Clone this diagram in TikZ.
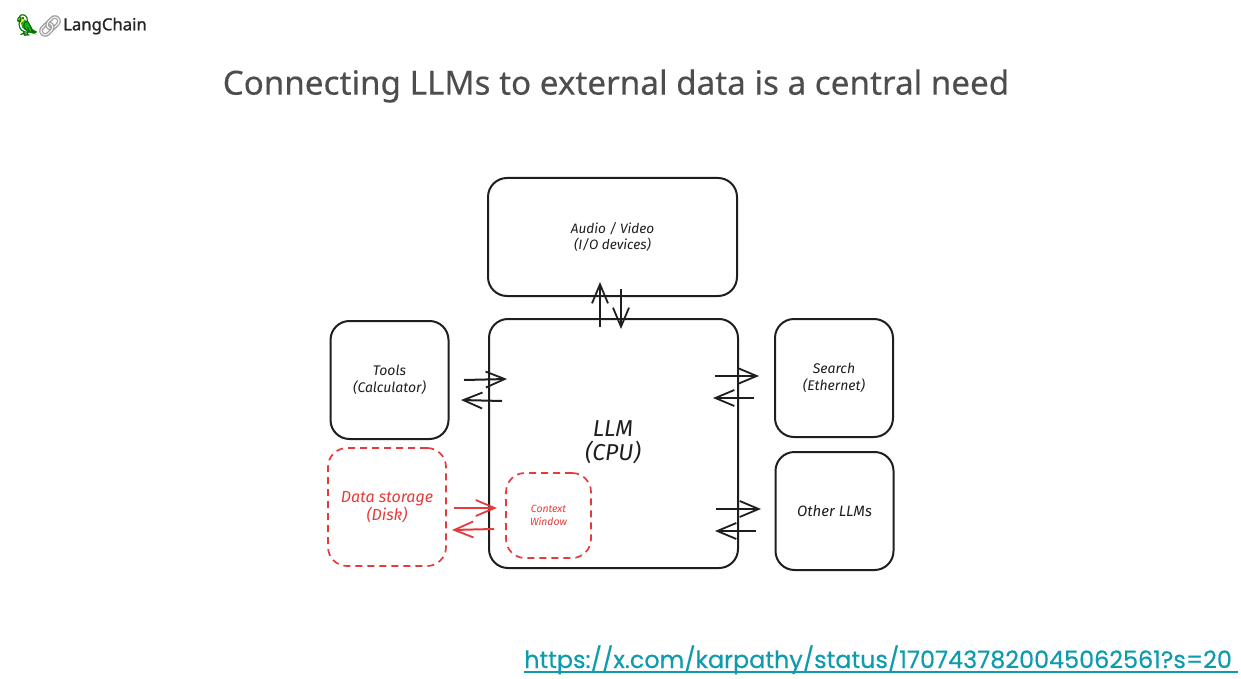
\documentclass[tikz,border=0pt]{standalone}
\usepackage{fontspec}
\setmainfont{Lato}
\newfontfamily\titlefont{Noto Sans}[FakeBold=0.3]
\newfontfamily\logofont{Noto Sans}[FakeBold=1.2]
\newfontfamily\linkfont{Poppins}[FakeBold=0.35]
\newfontfamily\handfont{Fira Sans}
\newfontfamily\emojifont{Noto Emoji}[FakeBold=1]
\usetikzlibrary{arrows.meta}
\definecolor{inkc}{HTML}{1E1E1E}
\definecolor{redc}{HTML}{E63B3B}
\definecolor{titlec}{HTML}{4D4D4D}
\definecolor{linkc}{HTML}{0E9BAE}
\tikzset{
  box/.style={draw=inkc,line width=2pt,rounded corners=19pt,inner sep=0pt,
    minimum width=#1,align=center,font=\handfont\itshape\fontsize{14}{16.5}\selectfont,text=inkc},
  redbox/.style={draw=redc,line width=1.7pt,dashed,dash pattern=on 7pt off 5pt,
    rounded corners=19pt,inner sep=0pt,align=center,text=redc,font=\handfont\itshape\fontsize{16}{17}\selectfont},
  lbl/.style={inner sep=0pt,align=center},
  arr/.style={draw=inkc,line width=2pt,-{Straight Barb[length=19pt,width=16pt,line width=1.8pt]}},
  rarr/.style={arr,draw=redc},
}
\begin{document}
\begin{tikzpicture}[x=1pt,y=-1pt]
\useasboundingbox (0,0) rectangle (1241,679);
% logo and title
\fill[green!60!black!85] (19,19) .. controls (25,17) and (32,25) .. (33,31) .. controls (27,33) and (21,29) .. (21,23) -- cycle;
\fill[yellow!80!orange] (21,19.5) circle (3.2pt);
\fill[orange!85!red] (29,30) -- (37,35) -- (31,32.5) -- cycle;
\node[lbl,text=green!45!black,font=\emojifont\fontsize{21}{21}\selectfont] (parrot) at (27,25) {🦜};
\node[lbl,text=gray!75,font=\emojifont\fontsize{21}{21}\selectfont] (chain) at (50,26) {🔗};
\node[lbl,anchor=west,text=black!85,font=\logofont\fontsize{16.7}{18}\selectfont] (logo) at (63,26) {LangChain};
\node[lbl,text=titlec,font=\titlefont\fontsize{33.2}{36}\selectfont] (title) at (616,86) {Connecting LLMs to external data is a central need};
% boxes
\node[box=249pt,minimum height=118pt,font=\handfont\itshape\fontsize{13.6}{16}\selectfont] (av) at (612.5,237) {Audio / Video\\(I/O devices)};
\node[box=249pt,minimum height=249pt] (llm) at (613.5,443.5) {};
\node[lbl,text=inkc,font=\handfont\itshape\fontsize{23}{24}\selectfont] (llmt) at (613,442) {LLM\\(CPU)};
\node[box=118pt,minimum height=118pt] (tools) at (389.5,380) {Tools\\(Calculator)};
\node[box=118pt,minimum height=118pt] (search) at (834,378) {Search\\(Ethernet)};
\node[box=118pt,minimum height=118pt,font=\handfont\itshape\fontsize{15}{16}\selectfont] (other) at (834.5,511) {Other LLMs};
\node[redbox,minimum width=118pt,minimum height=118pt] (disk) at (387,507) {Data storage\\(Disk)};
\node[redbox,minimum width=85pt,minimum height=85pt,font=\handfont\itshape\fontsize{10.4}{13}\selectfont] (ctx) at (548.5,515.5) {Context\\Window};
% free arrow ends
\coordinate (a1s) at (600,327); \coordinate (a1e) at (600,282);
\coordinate (a2s) at (621,289); \coordinate (a2e) at (621,329);
\coordinate (t1s) at (464,380); \coordinate (t1e) at (507,379);
\coordinate (t2s) at (502,401); \coordinate (t2e) at (461,400);
\coordinate (s1s) at (715,376); \coordinate (s1e) at (759,376);
\coordinate (s2s) at (754,398); \coordinate (s2e) at (713,398);
\coordinate (o1s) at (716,509); \coordinate (o1e) at (761,509);
\coordinate (o2s) at (756,531); \coordinate (o2e) at (715,531);
\coordinate (d1s) at (454,508); \coordinate (d1e) at (497,508);
\coordinate (d2s) at (494,529); \coordinate (d2e) at (452,530);
\draw[arr] (a1s) -- (a1e);
\draw[arr] (a2s) -- (a2e);
\draw[arr] (t1s) -- (t1e);
\draw[arr] (t2s) -- (t2e);
\draw[arr] (s1s) -- (s1e);
\draw[arr] (s2s) -- (s2e);
\draw[arr] (o1s) -- (o1e);
\draw[arr] (o2s) -- (o2e);
\draw[rarr] (d1s) -- (d1e);
\draw[rarr] (d2s) -- (d2e);
% link
\node[lbl,anchor=base west,text=linkc,font=\linkfont\fontsize{23.9}{30}\selectfont] (url) at (524,668) {https://x.com/karpathy/status/1707437820045062561?s=20};
\draw[linkc,line width=1.8pt] (url.base west)++(0,4) -- ++(714,0);
\end{tikzpicture}
\end{document}
